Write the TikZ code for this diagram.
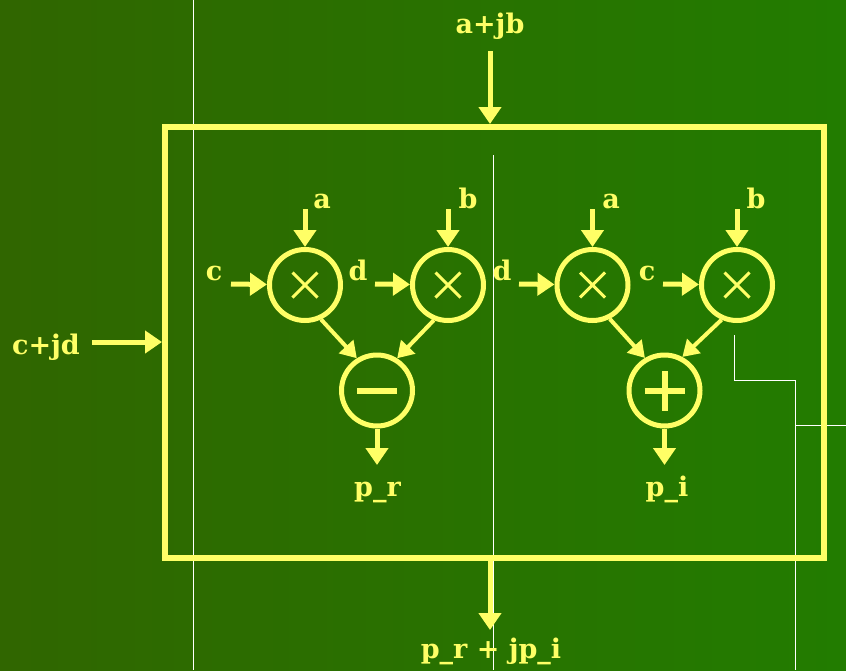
\documentclass[tikz,border=0pt]{standalone}
\usepackage{fontspec}
\setmainfont{DejaVu Serif}
\usetikzlibrary{arrows.meta, calc}

\definecolor{lemon}{HTML}{FFFF66}
\definecolor{bgdark}{RGB}{48,102,0}
\definecolor{bglight}{RGB}{34,124,0}

\tikzset{
    wire/.style={draw=lemon, line width=5pt, -{Triangle[length=17pt,width=22pt]}},
    thinwire/.style={draw=lemon, line width=4pt, -{Triangle[length=16pt,width=19pt]}},
    op/.style={circle, draw=lemon, line width=5pt, minimum size=71pt, inner sep=0pt},
    mult/.style={op, path picture={
        \draw[lemon, line width=3pt]
            ([shift={(-12.5pt,-12.5pt)}]path picture bounding box.center) -- ([shift={(12.5pt,12.5pt)}]path picture bounding box.center)
            ([shift={(-12.5pt,12.5pt)}]path picture bounding box.center) -- ([shift={(12.5pt,-12.5pt)}]path picture bounding box.center);}},
    minus/.style={op, path picture={
        \draw[lemon, line width=6pt]
            ([xshift=-20pt]path picture bounding box.center) -- ([xshift=20pt]path picture bounding box.center);}},
    plus/.style={op, path picture={
        \draw[lemon, line width=6pt]
            ([xshift=-20pt]path picture bounding box.center) -- ([xshift=20pt]path picture bounding box.center)
            ([yshift=-20pt]path picture bounding box.center) -- ([yshift=20pt]path picture bounding box.center);}},
    lbl/.style={text=lemon, font=\fontsize{27}{30}\selectfont\bfseries, anchor=base, inner sep=0pt},
    guide/.style={draw=white, line width=1pt}
}

\begin{document}
\begin{tikzpicture}[x=1pt, y=-1pt]
    \useasboundingbox (0,0) rectangle (846,670);
    \shade[left color=bgdark, right color=bglight] (0,0) rectangle (846,670);

    % thin white lines
    \draw[guide] (193,0) -- (193,670);
    \draw[guide] (493,155) -- (493,670);
    \draw[guide] (734,335) -- (734,380) -- (795,380) -- (795,670);
    \draw[guide] (795,425) -- (846,425);

    % outer box
    \node[draw=lemon, line width=6pt, minimum width=659pt, minimum height=431pt, inner sep=0pt] (box) at (494.5,342.5) {};

    % operators
    \node[mult] (m1) at (305,285) {};
    \node[mult] (m2) at (448,285) {};
    \node[mult] (m3) at (592.5,285) {};
    \node[mult] (m4) at (737,285) {};
    \node[minus] (sub) at (377,390.5) {};
    \node[plus] (add) at (664.5,390.5) {};

    % arrow tails
    \coordinate (ta1) at (305,209);
    \coordinate (ta2) at (448,209);
    \coordinate (ta3) at (592.5,209);
    \coordinate (ta4) at (737,209);
    \coordinate (tl1) at (231,284);
    \coordinate (tl2) at (375,284);
    \coordinate (tl3) at (519,284);
    \coordinate (tl4) at (663,284);
    \coordinate (pr) at (377,465);
    \coordinate (pi) at (664.5,465);
    \coordinate (tin) at (490,51);
    \coordinate (tleft) at (92,342);
    \coordinate (tout) at (490,630);

    % labels
    \node[lbl] (la1) at (322,208) {a};
    \node[lbl] (lb1) at (468,208) {b};
    \node[lbl] (la2) at (611,208) {a};
    \node[lbl] (lb2) at (756,208) {b};
    \node[lbl] (lc1) at (214,280) {c};
    \node[lbl] (ld1) at (358,280) {d};
    \node[lbl] (ld2) at (502,280) {d};
    \node[lbl] (lc2) at (647,280) {c};
    \node[lbl] (lpr) at (377.5,496) {p\_r};
    \node[lbl] (lpi) at (667,496) {p\_i};
    \node[lbl] (lin) at (490,33) {a+jb};
    \node[lbl] (lleft) at (46,354) {c+jd};
    \node[lbl] (lout) at (491,658) {p\_r + jp\_i};

    % inputs of the multipliers
    \draw[wire] (ta1) -- (m1);
    \draw[wire] (ta2) -- (m2);
    \draw[wire] (ta3) -- (m3);
    \draw[wire] (ta4) -- (m4);
    \draw[wire] (tl1) -- (m1);
    \draw[wire] (tl2) -- (m2);
    \draw[wire] (tl3) -- (m3);
    \draw[wire] (tl4) -- (m4);

    % products into sub and add
    \draw[thinwire] (m1.-65) -- (sub.122);
    \draw[thinwire] (m2.-112) -- (sub.58);
    \draw[thinwire] (m3.-63) -- (add.121);
    \draw[thinwire] (m4.-114) -- (add.62);
    \draw[wire] (sub) -- (pr);
    \draw[wire] (add) -- (pi);

    % outer connections
    \draw[wire] (tin) -- (box.north -| tin);
    \draw[wire] (tleft) -- (box.west |- tleft);
    \draw[wire] (box.south -| tout) -- (tout);
\end{tikzpicture}
\end{document}
